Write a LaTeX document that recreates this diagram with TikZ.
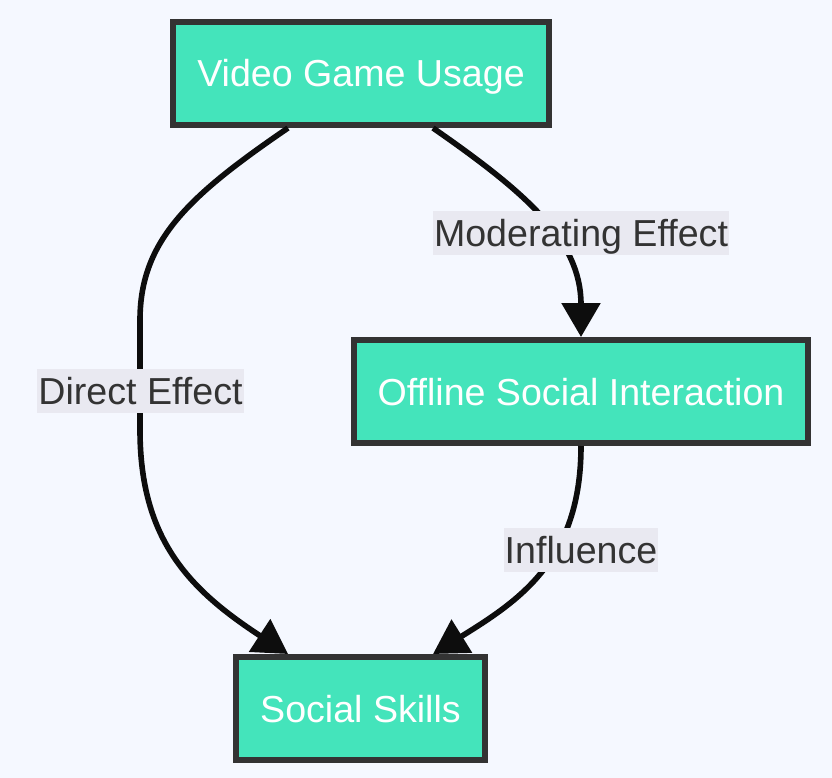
\documentclass[tikz,border=0pt]{standalone}
\usepackage{fontspec}
\setmainfont{Liberation Sans}
\usetikzlibrary{arrows.meta}
\definecolor{bgc}{HTML}{F5F8FF}
\definecolor{nodefill}{HTML}{44E4BB}
\definecolor{nodeborder}{HTML}{333333}
\definecolor{lblbg}{HTML}{E9E9F1}
\definecolor{lbltext}{HTML}{333333}
\definecolor{edgec}{HTML}{0D0D0D}
\tikzset{
  box/.style={draw=nodeborder, line width=6pt, fill=nodefill, text=white,
    font=\fontsize{37.6}{42}\selectfont, inner sep=0pt, anchor=center,
    text height=27pt, text depth=0pt},
  lbl/.style={fill=lblbg, text=lbltext, font=\fontsize{37.6}{42}\selectfont,
    inner xsep=1pt, inner ysep=0pt, minimum height=44pt, anchor=center,
    text height=27pt, text depth=0pt},
  edge/.style={draw=edgec, line width=5.6pt, -{Triangle[length=34pt,width=38pt]}},
}
\begin{document}
\begin{tikzpicture}[x=1pt,y=-1pt]
\fill[bgc] (0,0) rectangle (832,778);
\useasboundingbox (0,0) rectangle (832,778);

\node[box, minimum width=376pt, minimum height=103pt] (vg) at (361,73.5) {Video Game Usage};
\node[box, minimum width=454pt, minimum height=103pt] (off) at (581,391.5) {Offline Social Interaction};
\node[box, minimum width=249pt, minimum height=103pt] (ss) at (360.5,708.5) {Social Skills};

% Direct effect
\draw[edge] ([xshift=-73pt]vg.south) .. controls (190,195) and (140,240) .. (140,320)
  -- (140,430) .. controls (140,540) and (190,590) .. ([xshift=-72.5pt]ss.north);
% Moderating effect
\draw[edge] ([xshift=72pt]vg.south) .. controls (525,192) and (581,240) .. (off.north);
% Influence
\draw[edge] (off.south) .. controls (581,560) and (520,600) .. ([xshift=72.5pt]ss.north);

\node[lbl] (l1) at (140.5,391) {Direct Effect};
\node[lbl] (l2) at (581,232.5) {Moderating Effect};
\node[lbl] (l3) at (581,550) {Influence};
\end{tikzpicture}
\end{document}
